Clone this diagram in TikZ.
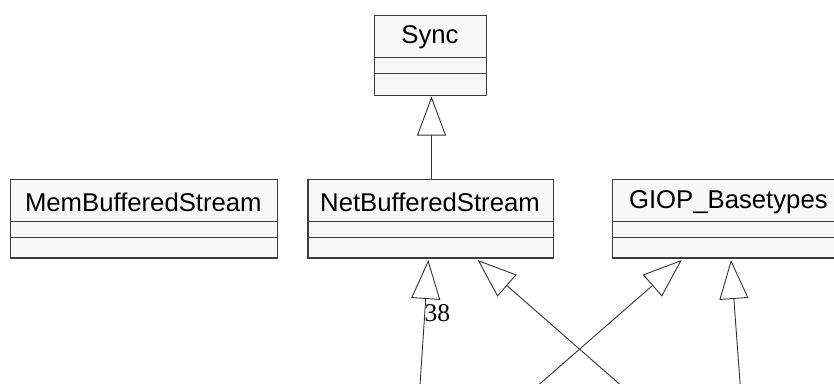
\documentclass[tikz,border=0pt]{standalone}
\usepackage{fontspec}
\setmainfont{Liberation Sans}
\newfontfamily\serifnum{Liberation Serif}
\usetikzlibrary{arrows.meta}
\definecolor{boxfill}{HTML}{F8F8F8}
\definecolor{boxline}{HTML}{3C3C3C}
\definecolor{conline}{HTML}{333333}
\tikzset{
  clsbox/.style={draw=boxline, fill=boxfill, line width=1.3pt, inner sep=0pt, anchor=north west},
  clsname/.style={font=\fontsize{25.7}{29}\selectfont, inner sep=0pt},
  divider/.style={draw=boxline, line width=1.1pt},
  inh/.style={draw=conline, line width=0.9pt, -{Triangle[open, length=39pt, width=29pt, fill=white, line width=0.9pt]}},
  lbl/.style={font=\serifnum\fontsize{25.5}{28}\selectfont, inner sep=0pt, anchor=base west}
}
% \umlclass{name}{left}{right}{top}{div1}{div2}{bottom}{text}
\newcommand{\umlclass}[8]{%
  \node[clsbox, minimum width={(#3-#2)*1pt}, minimum height={(#7-#4)*1pt}] (#1) at (#2,#4) {};
  \node[clsname] (#1-name) at ({(#2+#3)/2},{(#4+#5)/2+1.5}) {#8};
  \path[divider] (#2,#5) -- (#3,#5) (#2,#6) -- (#3,#6);
}
\begin{document}
\begin{tikzpicture}[x=1pt, y=-1pt]
\useasboundingbox (0,0) rectangle (834,383);
\umlclass{sync}{374}{486}{15}{57.3}{73.3}{95}{Sync}
\umlclass{mem}{10}{276.7}{179}{221.7}{237.3}{257.3}{MemBufferedStream}
\umlclass{net}{307.3}{552.7}{179}{221.7}{237.3}{257.3}{NetBufferedStream}
\umlclass{giop}{611.7}{845}{179}{221.7}{237.3}{257.3}{GIOP\_Basetypes}
% connector end points
\coordinate (synctip) at (431.5,96.5);
\coordinate (nettop) at (431.5,179);
\coordinate (s1) at (420,385);
\coordinate (t1) at (428.3,260);
\coordinate (s2) at (620.5,385);
\coordinate (t2) at (477.7,260);
\coordinate (s3) at (538.5,385);
\coordinate (t3) at (681.7,260);
\coordinate (s4) at (740.2,385);
\coordinate (t4) at (731,260);
\draw[inh] (nettop) -- (synctip);
\draw[inh] (s1) -- (t1);
\draw[inh] (s2) -- (t2);
\draw[inh] (s3) -- (t3);
\draw[inh] (s4) -- (t4);
\node[lbl] (lbl38) at (424.3,321) {38};
\end{tikzpicture}
\end{document}
